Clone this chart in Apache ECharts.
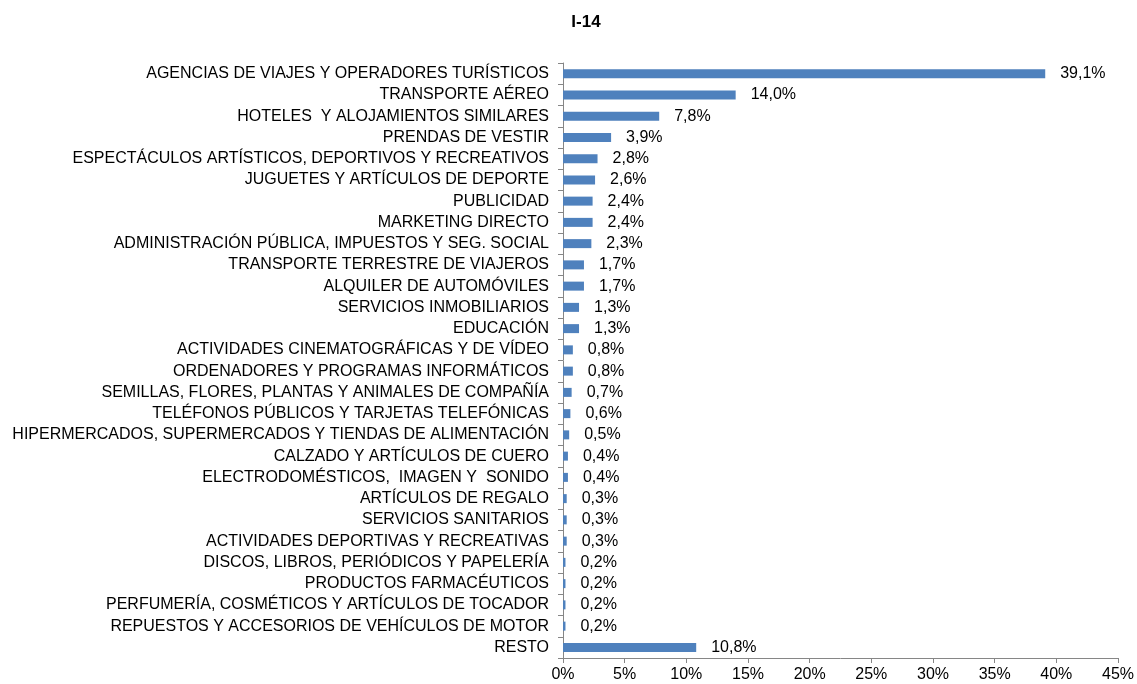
<!DOCTYPE html>
<html>
<head>
<meta charset="utf-8">
<script src="https://cdn.jsdelivr.net/npm/echarts@6/dist/echarts.min.js"></script>
<style>
  html, body { margin: 0; padding: 0; background: #fff; }
  #chart { width: 1137px; height: 684px; }
</style>
</head>
<body>
<div id="chart"></div>
<script>
// categorías de arriba a abajo
const categories = [
  'AGENCIAS DE VIAJES Y OPERADORES TURÍSTICOS',
  'TRANSPORTE AÉREO',
  'HOTELES  Y ALOJAMIENTOS SIMILARES',
  'PRENDAS DE VESTIR',
  'ESPECTÁCULOS ARTÍSTICOS, DEPORTIVOS Y RECREATIVOS',
  'JUGUETES Y ARTÍCULOS DE DEPORTE',
  'PUBLICIDAD',
  'MARKETING DIRECTO',
  'ADMINISTRACIÓN PÚBLICA, IMPUESTOS Y SEG. SOCIAL',
  'TRANSPORTE TERRESTRE DE VIAJEROS',
  'ALQUILER DE AUTOMÓVILES',
  'SERVICIOS INMOBILIARIOS',
  'EDUCACIÓN',
  'ACTIVIDADES CINEMATOGRÁFICAS Y DE VÍDEO',
  'ORDENADORES Y PROGRAMAS INFORMÁTICOS',
  'SEMILLAS, FLORES, PLANTAS Y ANIMALES DE COMPAÑÍA',
  'TELÉFONOS PÚBLICOS Y TARJETAS TELEFÓNICAS',
  'HIPERMERCADOS, SUPERMERCADOS Y TIENDAS DE ALIMENTACIÓN',
  'CALZADO Y ARTÍCULOS DE CUERO',
  'ELECTRODOMÉSTICOS,  IMAGEN Y  SONIDO',
  'ARTÍCULOS DE REGALO',
  'SERVICIOS SANITARIOS',
  'ACTIVIDADES DEPORTIVAS Y RECREATIVAS',
  'DISCOS, LIBROS, PERIÓDICOS Y PAPELERÍA',
  'PRODUCTOS FARMACÉUTICOS',
  'PERFUMERÍA, COSMÉTICOS Y ARTÍCULOS DE TOCADOR',
  'REPUESTOS Y ACCESORIOS DE VEHÍCULOS DE MOTOR',
  'RESTO'
]

// porcentaje
const values = [39.1, 14.0, 7.8, 3.9, 2.8, 2.6, 2.4, 2.4, 2.3, 1.7, 1.7, 1.3, 1.3,
  0.8, 0.8, 0.7, 0.6, 0.5, 0.4, 0.4, 0.3, 0.3, 0.3, 0.2, 0.2, 0.2, 0.2, 10.8]

const xMin = 0
const xMax = 45
const xStep = 5

const font = 'Liberation Sans, Arial, sans-serif'
const axisColor = '#868686'

const chart = echarts.init(document.getElementById('chart'))

const option = {
  animation: false,
  title: {
    text: 'I-14',
    left: 581,
    top: 9,
    textAlign: 'center',
    textStyle: { fontFamily: font, fontSize: 17, fontWeight: 'bold', color: '#000' }
  },
  grid: {
    left: 563,
    right: 18,
    top: 63,
    bottom: 26,
    containLabel: false
  },
  xAxis: {
    type: 'value',
    min: xMin,
    max: xMax,
    interval: xStep,
    axisLine: { show: true, lineStyle: { color: axisColor, width: 1 } },
    axisTick: { show: true, length: 5, lineStyle: { color: axisColor } },
    splitLine: { show: false },
    axisLabel: {
      margin: 9,
      fontFamily: font,
      fontSize: 16,
      color: '#000',
      formatter: v => v + '%'
    }
  },
  yAxis: {
    type: 'category',
    data: categories,
    inverse: true,
    axisLine: { show: true, lineStyle: { color: axisColor, width: 1 } },
    axisTick: { show: true, length: 5, alignWithLabel: false, lineStyle: { color: axisColor } },
    axisLabel: {
      margin: 14,
      fontFamily: font,
      fontSize: 16,
      color: '#000'
    }
  },
  series: [{
    type: 'bar',
    data: values,
    barWidth: 9,
    itemStyle: { color: '#4F81BD' },
    label: {
      show: true,
      position: 'right',
      distance: 15,
      fontFamily: font,
      fontSize: 16,
      color: '#000',
      formatter: p => p.value.toFixed(1).replace('.', ',') + '%'
    }
  }]
}

chart.setOption(option)
</script>
</body>
</html>
